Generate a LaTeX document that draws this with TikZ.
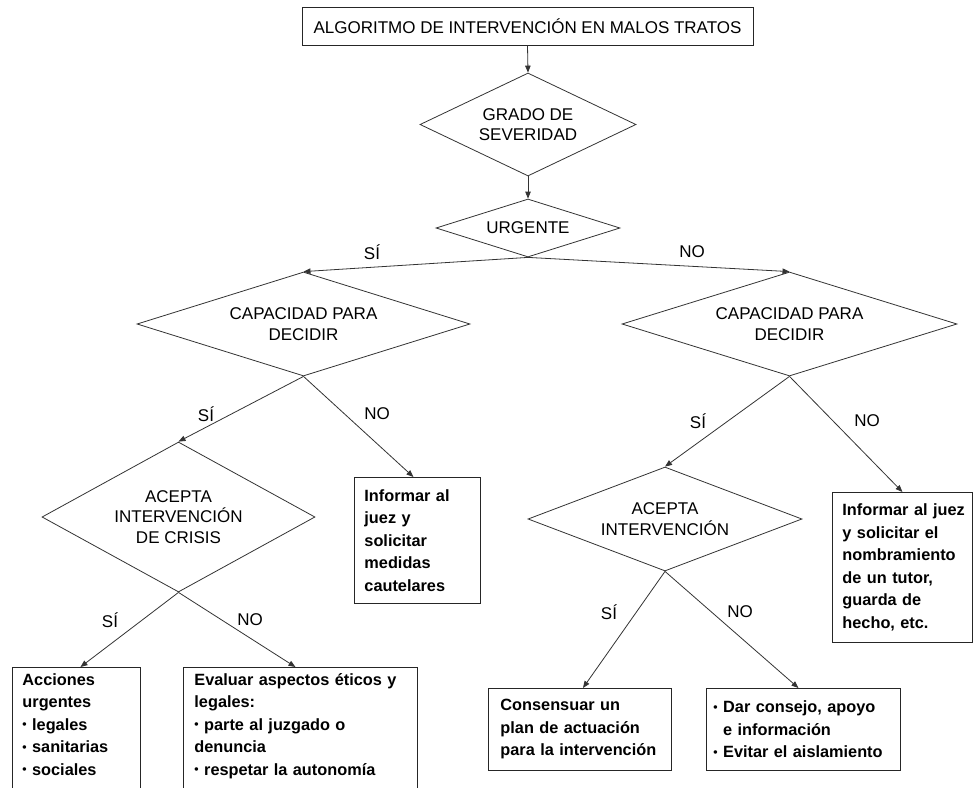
\documentclass[tikz,border=0pt]{standalone}
\usepackage{fontspec}
\setmainfont{Liberation Sans}
\usetikzlibrary{shapes.geometric,arrows.meta}
\newcommand{\smbul}{\raisebox{0.2ex}{\scalebox{0.75}{•}}}
\begin{document}
\begin{tikzpicture}[x=1pt,y=-1pt,
  dia/.style={diamond,draw=black!80,line width=0.8pt,inner sep=0pt,align=center,
    font=\fontsize{17}{20.5}\selectfont},
  box/.style={draw=black!85,line width=0.9pt,align=left,anchor=north west,
    font=\fontsize{16.3}{22.5}\selectfont\bfseries},
  arr/.style={draw=black!80,line width=0.8pt,-{Triangle[length=7pt,width=5.5pt]}},
  lab/.style={font=\fontsize{17}{20}\selectfont,inner sep=0pt}]
\useasboundingbox (0,0) rectangle (973,787);
\clip (0,0) rectangle (973,787);

% title
\node[draw=black!85,line width=0.9pt,minimum width=451pt,minimum height=38pt,inner sep=0pt,
  font=\fontsize{17}{20}\selectfont] (title) at (527.5,26) {ALGORITMO DE INTERVENCIÓN EN MALOS TRATOS};

% diamonds
\node[dia,minimum width=216pt,minimum height=103pt,aspect=2.1] (grado) at (528,124.5) {GRADO DE\\SEVERIDAD};
\node[dia,minimum width=184pt,minimum height=58pt,aspect=3.1] (urg) at (528,228) {URGENTE};
\node[dia,minimum width=333pt,minimum height=104pt,aspect=3.2] (capL) at (303.5,324) {CAPACIDAD PARA\\DECIDIR};
\node[dia,minimum width=335pt,minimum height=104pt,aspect=3.2] (capR) at (789.5,324) {CAPACIDAD PARA\\DECIDIR};
\node[dia,minimum width=273pt,minimum height=150pt,aspect=1.82] (aceC) at (178.5,517) {ACEPTA\\INTERVENCIÓN\\DE CRISIS};
\node[dia,minimum width=274pt,minimum height=104pt,aspect=2.63] (aceR) at (665,519) {ACEPTA\\INTERVENCIÓN};

% boxes
\node[box,text width=106pt,inner xsep=10pt,inner ysep=0pt,minimum height=126pt] (infL) at (354,477)
  {Informar~al\\juez~y\\solicitar\\medidas\\cautelares};
\node[box,text width=120pt,inner xsep=10pt,inner ysep=0pt,minimum height=150pt] (infR) at (832,492)
  {Informar~al~juez\\y~solicitar~el\\nombramiento\\de~un~tutor,\\guarda~de\\hecho,~etc.};
\node[box,text width=108pt,inner xsep=10pt,inner ysep=6pt] (acc) at (12,667)
  {Acciones\\urgentes\\\smbul~legales\\\smbul~sanitarias\\\smbul~sociales\\\mbox{}\\\mbox{}};
\node[box,text width=212pt,inner xsep=11pt,inner ysep=6pt] (eva) at (183,667)
  {Evaluar~aspectos~éticos~y\\legales:\\\smbul~parte~al~juzgado~o\\denuncia\\\smbul~respetar~la~autonomía\\\mbox{}\\\mbox{}};
\node[box,text width=159pt,inner xsep=12pt,inner ysep=0pt,minimum height=82pt] (cons) at (488,688)
  {Consensuar~un\\plan~de~actuación\\para~la~intervención};
\node[box,text width=180pt,inner xsep=7pt,inner ysep=0pt,minimum height=82pt] (dar) at (706,688)
  {\smbul~Dar~consejo,~apoyo\\\phantom{\smbul~}e~información\\\smbul~Evitar~el~aislamiento};

% connectors
\draw[arr] (title.south) -- (grado.north);
\draw[arr] (grado.south) -- (urg.north);
\draw[arr] (urg.south) -- (capL.north);
\draw[arr] (urg.south) -- (capR.north);
\draw[arr] (capL.south) -- (aceC.north);
\draw[arr] (capL.south) -- ([xshift=-4pt]infL.north);
\draw[arr] (aceC.south) -- ([xshift=4pt]acc.north);
\draw[arr] (aceC.south) -- ([xshift=-5pt]eva.north);
\draw[arr] (capR.south) -- (aceR.north);
\draw[arr] (capR.south) -- (infR.north);
\draw[arr] (aceR.south) -- ([xshift=3pt]cons.north);
\draw[arr] (aceR.south) -- ([xshift=-5pt]dar.north);

% labels
\node[lab] (l1) at (372,252) {SÍ};
\node[lab] (l2) at (692,252) {NO};
\node[lab] (l3) at (206,414) {SÍ};
\node[lab] (l4) at (377,414) {NO};
\node[lab] (l5) at (110,620) {SÍ};
\node[lab] (l6) at (250,620) {NO};
\node[lab] (l7) at (698,421) {SÍ};
\node[lab] (l8) at (867,421) {NO};
\node[lab] (l9) at (609,612) {SÍ};
\node[lab] (l10) at (740,612) {NO};
\end{tikzpicture}
\end{document}
